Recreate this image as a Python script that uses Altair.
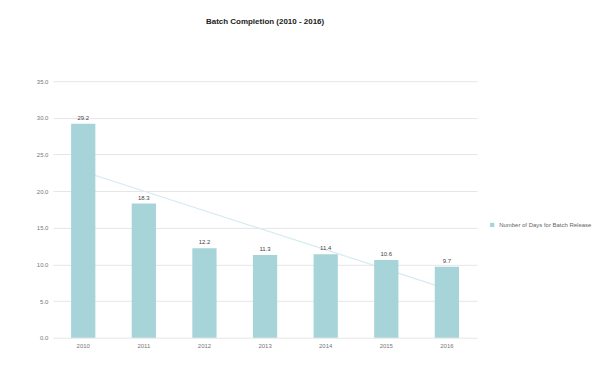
import altair as alt
import pandas as pd

years = [2010, 2011, 2012, 2013, 2014, 2015, 2016]
days = [29.2, 18.3, 12.2, 11.3, 11.4, 10.6, 9.7]
series_name = "Number of Days for Batch Release"
y_ticks = [0, 5, 10, 15, 20, 25, 30, 35]

df = pd.DataFrame({"Year": years, "Days": days, "series": [series_name] * len(years)})

FONT = "Liberation Sans"
BAR = "#a7d4d9"
TREND = "#d6ebf1"

x_enc = alt.X("Year:O", title=None,
              scale=alt.Scale(paddingInner=0.6, paddingOuter=0.3),
              axis=alt.Axis(labelAngle=0, labelFontSize=6, labelColor="#777",
                            ticks=False, domain=False, labelPadding=5))

y_enc = alt.Y("Days:Q", title=None,
              scale=alt.Scale(domain=[0, 35], nice=False),
              axis=alt.Axis(values=y_ticks, format=".1f", labelFontSize=6,
                            labelColor="#777", ticks=False, domain=False,
                            labelPadding=5, minExtent=20, maxExtent=20,
                            gridColor="#e6e6e6", gridWidth=1))

base = alt.Chart(df)

trend = base.transform_regression("Year", "Days", method="linear").mark_line(
    color=TREND, strokeWidth=1.2
).encode(
    x=x_enc,
    y=y_enc,
)

bars = base.mark_bar(color=BAR).encode(
    x=x_enc,
    y=y_enc,
    color=alt.Color("series:N", scale=alt.Scale(range=[BAR]),
                    legend=alt.Legend(title=None, orient="none", legendX=437, legendY=141,
                                      symbolType="square", symbolSize=18,
                                      labelFontSize=6, labelColor="#666",
                                      labelFont=FONT)),
)

labels = base.mark_text(dy=-6, fontSize=6, color="#444", font=FONT).encode(
    x=x_enc,
    y=y_enc,
    text=alt.Text("Days:Q", format=".1f"),
)

chart = alt.layer(trend, bars, labels).properties(
    width=425,
    height=257,
    title=alt.TitleParams("Batch Completion (2010 - 2016)", fontSize=8, font=FONT,
                          fontWeight="bold", color="#222", offset=52),
    padding={"left": 25, "top": 10, "right": 5, "bottom": 5},
).configure(
    background="white",
    font=FONT,
).configure_view(stroke=None)

chart.save("out.html", embed_options={"renderer": "svg", "actions": False})
